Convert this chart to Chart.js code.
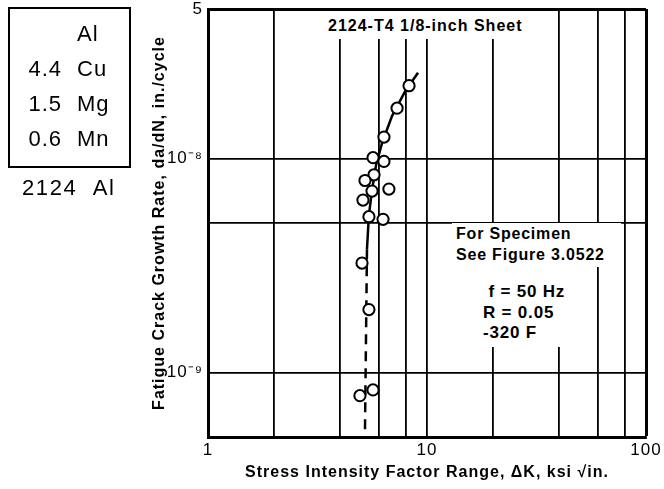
<!DOCTYPE html>
<html>
<head>
<meta charset="utf-8">
<script src="https://cdn.jsdelivr.net/npm/chart.js@4.4.1/dist/chart.umd.min.js"></script>
<style>
  body { margin: 0; background: #fff; }
  #wrap { position: relative; width: 664px; height: 489px; font-family: "Liberation Sans", Arial, sans-serif; color: #000; }
  #wrap canvas { position: absolute; left: 0; top: 0; }
  .note { position: absolute; background: #fff; font-weight: bold; font-size: 16px; letter-spacing: 0.8px; line-height: 21px; white-space: nowrap; }
  #alloy { position: absolute; left: 8px; top: 7px; width: 119px; height: 157px; border: 2px solid #000; }
  .al { position: absolute; font-size: 22px; line-height: 24px; letter-spacing: 1px; white-space: nowrap; }
</style>
</head>
<body>
<div id="wrap">
  <canvas id="myChart" width="664" height="489"></canvas>
  <div id="alloy"></div>
  <div class="note" style="left:324px;top:11px;height:28px;padding:4px 4px 0 4px;box-sizing:border-box;letter-spacing:1px;">2124-T4 1/8-inch Sheet</div>
  <div class="note" style="left:452px;top:223px;width:165px;height:44px;padding-left:4px;">For Specimen<br>See Figure 3.0522</div>
  <div class="note" style="left:478px;top:267px;width:96px;height:80px;font-size:17px;line-height:20.5px;padding:15px 0 0 5px;box-sizing:border-box;">&nbsp;f = 50 Hz<br>R = 0.05<br>-320 F</div>
</div>
<script>
// measured points
const testK = [8.28, 7.30, 6.36, 5.67, 6.36, 5.73, 5.21, 5.61, 6.70, 5.10, 5.43, 6.30, 5.05, 5.43, 4.94, 5.67];
const testRate = [2.19e-8, 1.72e-8, 1.26e-8, 1.01e-8, 9.7e-9, 8.4e-9, 7.9e-9, 7.05e-9, 7.2e-9, 6.4e-9, 5.35e-9, 5.2e-9, 3.25e-9, 1.97e-9, 7.8e-10, 8.3e-10];

// faired curve, solid part then dashed extension
const curveK = [9.1, 7.94, 6.92, 6.23, 5.85, 5.61, 5.43, 5.32];
const curveRate = [2.52e-8, 2.06e-8, 1.58e-8, 1.18e-8, 9.3e-9, 7.1e-9, 5.46e-9, 3.77e-9];
const dashK = [5.32, 5.21];
const dashRate = [3.77e-9, 5.4e-10];

// axes
const xTickValues = [1, 2, 4, 6, 8, 10, 20, 40, 60, 80, 100];
const xTickLabels = ['1', '', '', '', '', '10', '', '', '', '', '100'];
const yTickValues = [5e-10, 1e-9, 5e-9, 1e-8, 5e-8];
const yTickLabels = ['', '10\u207B\u2079', '', '10\u207B\u2078', '5'];

// alloy composition box
const alloyAmount = ['', '4.4', '1.5', '0.6'];
const alloyElement = ['Al', 'Cu', 'Mg', 'Mn'];

function toXY(xs, ys) {
  return xs.map((x, i) => ({ x: x, y: ys[i] }));
}

const wrap = document.getElementById('wrap');
alloyElement.forEach((el, i) => {
  const cy = 34 + 35 * i;
  const num = document.createElement('div');
  num.className = 'al';
  num.style.left = '0px';
  num.style.width = '62px';
  num.style.textAlign = 'right';
  num.style.top = (cy - 12) + 'px';
  num.textContent = alloyAmount[i];
  wrap.appendChild(num);
  const sym = document.createElement('div');
  sym.className = 'al';
  sym.style.left = '77px';
  sym.style.top = (cy - 12) + 'px';
  sym.textContent = el;
  wrap.appendChild(sym);
});
const alName = document.createElement('div');
alName.className = 'al';
alName.style.left = '22px';
alName.style.top = '176px';
alName.style.letterSpacing = '1.6px';
alName.innerHTML = '2124&nbsp;&nbsp;Al';
wrap.appendChild(alName);

// wider spacing for the axis titles, like the typeset original
const spacedText = {
  id: 'spacedText',
  beforeDraw: chart => { chart.ctx.letterSpacing = '1px'; }
};

new Chart('myChart', {
  type: 'scatter',
  data: {
    datasets: [{
      data: toXY(testK, testRate),
      pointRadius: 5.6,
      pointBackgroundColor: '#fff',
      pointBorderColor: '#000',
      pointBorderWidth: 2
    }, {
      data: toXY(curveK, curveRate),
      showLine: true,
      borderColor: '#000',
      borderWidth: 2.5,
      pointRadius: 0
    }, {
      data: toXY(dashK, dashRate),
      showLine: true,
      borderColor: '#000',
      borderWidth: 2.5,
      borderDash: [10, 7],
      pointRadius: 0
    }]
  },
  plugins: [spacedText],
  options: {
    responsive: false,
    animation: false,
    layout: { padding: { left: 150, right: 18, top: 9, bottom: 0 } },
    plugins: { legend: { display: false }, tooltip: { enabled: false } },
    scales: {
      x: {
        type: 'logarithmic',
        min: 1,
        max: 100,
        afterBuildTicks: s => { s.ticks = xTickValues.map(v => ({ value: v })); },
        afterFit: s => { s.height = 52; s.paddingLeft = 0; s.paddingRight = 0; },
        ticks: {
          autoSkip: false,
          maxRotation: 0,
          padding: 3,
          color: '#000',
          font: { family: 'Liberation Sans', size: 17 },
          callback: (v, i) => xTickLabels[i]
        },
        grid: {
          color: '#000',
          drawTicks: false,
          lineWidth: c => (c.index === xTickValues.length - 1 ? 3 : 1.8)
        },
        border: { color: '#000', width: 3 },
        title: {
          display: true,
          text: 'Stress Intensity Factor Range, \u0394K, ksi \u221Ain.',
          color: '#000',
          font: { family: 'Liberation Sans', size: 16, weight: 'bold' },
          padding: { top: 4, bottom: 7 }
        }
      },
      y: {
        type: 'logarithmic',
        min: 5e-10,
        max: 5e-8,
        afterBuildTicks: s => { s.ticks = yTickValues.map(v => ({ value: v })); },
        afterFit: s => { s.width = 58; s.paddingTop = 0; s.paddingBottom = 0; },
        ticks: {
          autoSkip: false,
          padding: 5,
          color: '#000',
          font: { family: 'Liberation Sans', size: 17 },
          callback: (v, i) => yTickLabels[i]
        },
        grid: {
          color: '#000',
          drawTicks: false,
          lineWidth: c => (c.index === yTickValues.length - 1 ? 3 : 1.8)
        },
        border: { color: '#000', width: 3 },
        title: {
          display: true,
          text: 'Fatigue Crack Growth Rate, da/dN, in./cycle',
          color: '#000',
          font: { family: 'Liberation Sans', size: 16, weight: 'bold' },
          padding: 0
        }
      }
    }
  }
});
</script>
</body>
</html>
